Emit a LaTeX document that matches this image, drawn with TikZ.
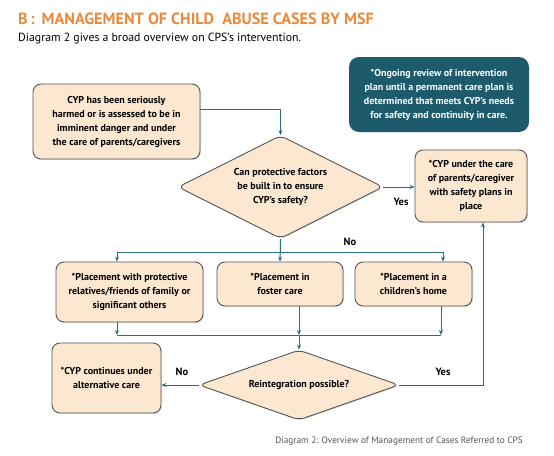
\documentclass[tikz,border=0pt]{standalone}
\usepackage{fontspec}
\setmainfont{PT Sans}
\usetikzlibrary{arrows.meta,shapes.geometric,shadows}
\definecolor{peach}{HTML}{FCE8D0}
\definecolor{boxline}{HTML}{555555}
\definecolor{arrowc}{HTML}{2E6B80}
\definecolor{darkteal}{HTML}{1D5B6C}
\definecolor{titleor}{HTML}{E98A3C}
\definecolor{capgray}{HTML}{555555}
\tikzset{
  pbox/.style={draw=boxline, line width=0.9pt, fill=peach, rounded corners=8pt, align=center,
    font=\bfseries\fontsize{10}{14}\selectfont, inner sep=2pt,
    drop shadow={opacity=0.25, shadow xshift=1pt, shadow yshift=-1pt}},
  dbox/.style={draw=boxline, line width=0.9pt, fill=peach, diamond, rounded corners=6pt, align=center,
    font=\bfseries\fontsize{10}{14}\selectfont, inner sep=0pt, aspect=2,
    drop shadow={opacity=0.25, shadow xshift=1pt, shadow yshift=-1pt}},
  tbox/.style={fill=darkteal, text=white, rounded corners=10pt, align=center,
    font=\bfseries\fontsize{10}{14}\selectfont, inner sep=2pt},
  arr/.style={draw=arrowc, line width=0.9pt, -{Stealth[length=5pt,width=4pt]}},
  ln/.style={draw=arrowc, line width=0.9pt},
  lbl/.style={font=\bfseries\fontsize{10.5}{12}\selectfont, inner sep=0pt}
}
\begin{document}
\begin{tikzpicture}[x=1pt,y=-1pt]
\useasboundingbox[fill=white] (0,0) rectangle (554,455);

\node[anchor=base west, text=titleor, font=\bfseries\fontsize{16.2}{18}\selectfont, inner sep=0pt] (title) at (18,24) {B\,:\, MANAGEMENT OF CHILD\enspace ABUSE CASES BY MSF};
\node[anchor=base west, font=\fontsize{11.8}{13}\selectfont, inner sep=0pt] (sub) at (18,41) {Diagram 2 gives a broad overview on CPS’s intervention.};

\node[tbox, minimum width=180pt, minimum height=75pt] (note) at (439,94.5) {*Ongoing review of intervention\\plan until a permanent care plan is\\determined that meets CYP’s needs\\for safety and continuity in care.};

\node[pbox, minimum width=167pt, minimum height=75pt] (b1) at (116.5,121.5) {CYP has been seriously\\harmed or is assessed to be in\\imminent danger and under\\the care of parents/caregivers};

\node[dbox, minimum width=205pt, minimum height=103pt] (d1) at (280.5,187) {Can protective factors\\be built in to ensure\\CYP’s safety?};

\node[pbox, minimum width=112pt, minimum height=72pt] (r1) at (471,186) {*CYP under the care\\of parents/caregiver\\with safety plans in\\place};

\node[pbox, minimum width=147pt, minimum height=60pt] (pA) at (129.5,292) {*Placement with protective\\relatives/friends of family or\\significant others};
\node[pbox, minimum width=126pt, minimum height=44pt] (pB) at (280,284) {*Placement in\\foster care};
\node[pbox, minimum width=117pt, minimum height=44pt] (pC) at (413.5,284) {*Placement in a\\children’s home};

\node[dbox, minimum width=200pt, minimum height=70pt] (d2) at (299,385) {Reintegration possible?};
\node[pbox, minimum width=109pt, minimum height=70pt] (bD) at (106.5,378) {*CYP continues under\\alternative care};

\node[anchor=base east, text=capgray, font=\fontsize{9.3}{11}\selectfont, inner sep=0pt] (cap) at (523,443) {Diagram 2: Overview of Management of Cases Referred to CPS};

% connectors
\draw[arr] ([yshift=12.5pt]b1.east) -| (d1.north);
\draw[arr] (d1.east) -- (r1.west |- d1.east);
\node[lbl] (yes1) at (401,202) {Yes};

\coordinate (nL) at (117,252);
\coordinate (nR) at (443,252);
\draw[ln] (d1.south) -- (d1.south |- nL);
\draw[ln] (nL) -- (nR);
\draw[arr] (nL) -- (nL |- pA.north);
\draw[arr] (d1.south) -- (pB.north);
\draw[arr] (nR) -- (nR |- pC.north);
\node[lbl] (no1) at (350,242) {No};

\coordinate (mL) at (117,335);
\coordinate (mM) at (299,335);
\coordinate (mR) at (441,335);
\draw[arr] (mL |- pA.south) -- (mL);
\draw[arr] (mM |- pB.south) -- (mM);
\draw[arr] (mR |- pC.south) -- (mR);
\draw[ln] (mL) -- (mR);
\draw[arr] (mM) -- (d2.north);

\draw[arr] (d2.west) -- (bD.east |- d2.west);
\node[lbl] (no2) at (182,372) {No};

\coordinate (yr) at (483,385);
\draw[arr] (d2.east) -- (yr) -- (yr |- r1.south);
\node[lbl] (yes2) at (443,372) {Yes};
\end{tikzpicture}
\end{document}
